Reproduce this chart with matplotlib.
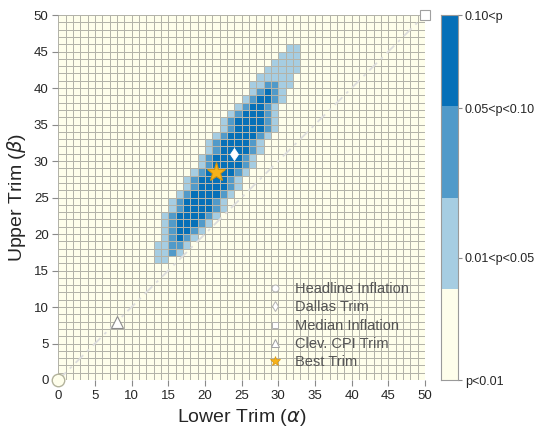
import matplotlib
matplotlib.use("Agg")
import matplotlib.pyplot as plt
import numpy as np
from matplotlib.colors import ListedColormap, BoundaryNorm
from matplotlib.lines import Line2D

plt.rcParams['font.family'] = ['Liberation Sans', 'DejaVu Sans']
plt.rcParams['mathtext.fontset'] = 'dejavusans'

# ---------------- data ----------------
n_grid = 50
# p-value category per cell: 0 = p<0.01, 1 = 0.01<p<0.05, 2 = 0.05<p<0.10, 3 = 0.10<p
band_rows = list(range(16, 46))
band_start = [13, 13, 13, 14, 14, 14, 14, 15, 15, 16, 17, 17, 18, 19, 19,
              20, 20, 21, 22, 22, 23, 24, 25, 26, 26, 27, 28, 29, 30, 31]
band_codes = ["11", "1121", "11221", "12321", "123321", "1233321",
              "12333321", "12333321", "12333321", "12333321", "12333321",
              "12333321", "12333321", "12333321", "12333321", "12333321",
              "12333321", "12333321", "12333321", "12333321", "1233321",
              "123321", "123321", "12321", "112211", "11111", "11111",
              "1111", "111", "11"]

category_labels = ['p<0.01', '0.01<p<0.05', '0.05<p<0.10', '0.10<p']
category_colors = ['#fefeeb', '#a6cde2', '#519ac9', '#0670b8']
cbar_tick_pos = [0, 1.34, 2.98, 4]

trim_names = ['Headline Inflation', 'Dallas Trim', 'Median Inflation',
              'Clev. CPI Trim', 'Best Trim']
trim_alpha = [0, 24, 50, 8, 21.5]
trim_beta = [0, 31, 50, 8, 28.5]

# ---------------- build grid ----------------
Z = np.zeros((n_grid, n_grid))
for r, s, code in zip(band_rows, band_start, band_codes):
    for i, ch in enumerate(code):
        Z[r, s + i] = int(ch)

W, H = 539, 433
fig = plt.figure(figsize=(W / 100, H / 100), dpi=100)
ax = fig.add_axes([58.3 / W, 53 / H, 366.7 / W, 365 / H])

cmap = ListedColormap(category_colors)
norm = BoundaryNorm([-0.5, 0.5, 1.5, 2.5, 3.5], cmap.N)
edges = np.arange(n_grid + 1)
ax.pcolormesh(edges, edges, Z, cmap=cmap, norm=norm,
              edgecolors='#b3b3a9', linewidth=0.5)

ax.plot([0, n_grid], [0, n_grid], linestyle=(0, (6, 3, 1.5, 3)), color='#dcdcdc',
        linewidth=1.3, zorder=3)

# markers
ax.plot(trim_alpha[0], trim_beta[0], 'o', ms=9, mfc='#fefeeb',
        mec='#b3b39c', mew=1.0, clip_on=False, zorder=5)
ax.plot(trim_alpha[1], trim_beta[1], 'd', ms=6.5, mfc='white',
        mec='white', mew=0.6, zorder=5)
ax.plot(trim_alpha[2], trim_beta[2], 's', ms=7, mfc='white',
        mec='#a0a0a0', mew=0.8, clip_on=False, zorder=5)
ax.plot(trim_alpha[3], trim_beta[3], '^', ms=9, mfc='white',
        mec='#8c8c8c', mew=0.8, zorder=5)
ax.plot(trim_alpha[4], trim_beta[4], '*', ms=14, mfc='#f6b21b',
        mec='#d9950a', mew=0.8, zorder=6)

ax.set_xlim(0, n_grid)
ax.set_ylim(0, n_grid)
ticks = np.arange(0, 51, 5)
ax.set_xticks(ticks)
ax.set_yticks(ticks)
for sp in ax.spines.values():
    sp.set_visible(False)
ax.tick_params(direction='out', length=4, width=0.8, color='#8a8a8a',
               labelsize=9.5, labelcolor='#262626', pad=3)
ax.set_xlabel(r'Lower Trim ($\alpha$)', fontsize=14, color='#262626', labelpad=4)
ax.set_ylabel(r'Upper Trim ($\beta$)', fontsize=14, color='#262626', labelpad=4)

# legend
handles = [
    Line2D([], [], ls='none', marker='o', ms=5, mfc='white', mec='#b0b0b0', mew=0.7),
    Line2D([], [], ls='none', marker='d', ms=5.5, mfc='white', mec='#b0b0b0', mew=0.7),
    Line2D([], [], ls='none', marker='s', ms=4.5, mfc='white', mec='#b0b0b0', mew=0.7),
    Line2D([], [], ls='none', marker='^', ms=5.5, mfc='white', mec='#a0a0a0', mew=0.7),
    Line2D([], [], ls='none', marker='*', ms=7, mfc='#f6b21b', mec='#d9950a', mew=0.5),
]
leg = ax.legend(handles, trim_names, loc='upper left',
                bbox_to_anchor=((266 - 58.3) / 366.7, (380 - 282) / 365),
                frameon=False, fontsize=10.5, handlelength=1.3,
                handletextpad=0.7, labelspacing=0.3, borderpad=0,
                borderaxespad=0)
for t in leg.get_texts():
    t.set_color('#555555')

# colorbar
cax = fig.add_axes([441 / W, 53 / H, 17 / W, 365 / H])
cb_edges = np.arange(len(category_colors) + 1)
cax.pcolormesh([0, 1], cb_edges, np.arange(len(category_colors)).reshape(-1, 1),
               cmap=cmap, norm=norm)
cax.set_xlim(0, 1)
cax.set_ylim(0, len(category_colors))
cax.set_xticks([])
cax.yaxis.tick_right()
cax.set_yticks(cbar_tick_pos)
cax.set_yticklabels(category_labels)
cax.tick_params(axis='y', direction='out', length=3, width=0.8,
                color='#8a8a8a', labelsize=9, labelcolor='#262626', pad=2)
for sp in cax.spines.values():
    sp.set_color('#9a9a9a')
    sp.set_linewidth(0.8)

fig.savefig('out.png', dpi=100)
